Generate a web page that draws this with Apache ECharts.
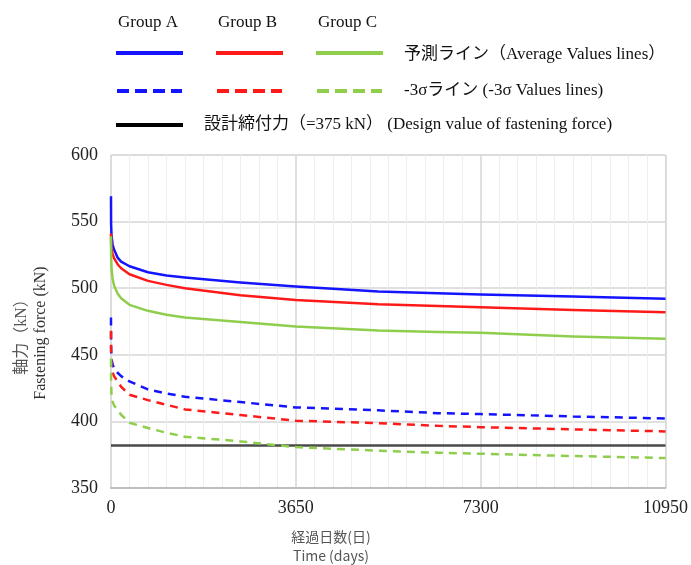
<!DOCTYPE html>
<html><head><meta charset="utf-8">
<script src="https://cdn.jsdelivr.net/npm/echarts@6/dist/echarts.min.js"></script>
<style>html,body{margin:0;padding:0;background:#fff}#c{width:691px;height:565px}</style>
</head><body><div id="c"></div>
<script>
// ---- data ----
const days = [0, 2, 10, 30, 60, 130, 200, 365, 730, 1095, 1460, 2555, 3650, 5277, 6456, 7300, 9125, 10950];
const groupA_avg = [569, 548, 540, 533, 529, 523, 520, 516.5, 512, 509.5, 508, 504.2, 501.2, 497.5, 496.2, 495.2, 493.8, 492];
const groupB_avg = [541, 535, 530, 526, 522.5, 518, 515, 510.5, 505.5, 502.5, 500, 494.7, 491.2, 488, 486.7, 485.7, 483.7, 482];
const groupC_avg = [539, 525, 515, 507.5, 502, 496, 492.5, 487.5, 483, 480, 478, 474.7, 471.2, 468.2, 467.2, 466.5, 463.7, 462];
const groupA_3s = [478, 455, 447, 443, 440, 436.5, 434, 430, 424, 421, 418.5, 414.5, 410.5, 408.3, 406.2, 405.5, 403.7, 402.2];
const groupB_3s = [468, 448, 441, 437, 434, 430, 426, 420, 416, 412.5, 409, 404.8, 400.5, 398.7, 396.7, 395.7, 394, 392.5];
const groupC_3s = [447, 430, 420, 415, 412, 408.5, 405, 399, 395, 391.5, 388.5, 385, 380.7, 378, 376.5, 375.7, 374, 372.5];
const designValue = 382;
const xTicks = [0, 3650, 7300, 10950];
const yTicks = [350, 400, 450, 500, 550, 600];
const groupNames = ['Group A', 'Group B', 'Group C'];
const legendTexts = ['予測ライン（Average Values lines）', '-3σライン (-3σ Values lines)', '設計締付力（=375 kN） (Design value of fastening force)'];
const axisNameY = ['軸力（kN）', 'Fastening force (kN)'];
const axisNameX = ['経過日数(日)', 'Time (days)'];

const colors = ['#1414ff', '#ff1a1a', '#8fce4c'];
const serif = '"Liberation Serif", "Noto Sans CJK JP", serif';
const sans = '"Noto Sans CJK JP", "Noto Sans", sans-serif';

function pairs(v) { return days.map((d, i) => [d, v[i]]); }

const avgSets = [groupA_avg, groupB_avg, groupC_avg];
const sigSets = [groupA_3s, groupB_3s, groupC_3s];
const series = [];
series.push({
  type: 'line', data: [[xTicks[0], designValue], [xTicks[xTicks.length - 1], designValue]],
  symbol: 'none', lineStyle: { color: '#4a4a4a', width: 2.5 }, z: 1
});
for (let g = 0; g < 3; g++) {
  series.push({ type: 'line', data: pairs(avgSets[g]), symbol: 'none',
    lineStyle: { color: colors[g], width: 2.5, join: 'round' }, z: 3 });
  series.push({ type: 'line', data: pairs(sigSets[g]), symbol: 'none',
    lineStyle: { color: colors[g], width: 2.5, type: [8, 6] }, z: 3 });
}

// legend graphics
const lx = [116, 216, 316];
const graphic = [];
for (let g = 0; g < 3; g++) {
  graphic.push({ type: 'text', left: lx[g] + 2, top: 14, style: { text: groupNames[g], font: '17px ' + serif, fill: '#111' } });
  graphic.push({ type: 'line', shape: { x1: lx[g], y1: 53, x2: lx[g] + 67, y2: 53 }, style: { stroke: colors[g], lineWidth: 4 } });
  graphic.push({ type: 'line', shape: { x1: lx[g] + 1, y1: 91, x2: lx[g] + 66, y2: 91 }, style: { stroke: colors[g], lineWidth: 4, lineDash: [12, 6] } });
}
graphic.push({ type: 'line', shape: { x1: 116, y1: 125, x2: 183, y2: 125 }, style: { stroke: '#000', lineWidth: 4 } });
graphic.push({ type: 'text', x: 404, y: 55, style: { text: legendTexts[0], font: '17px ' + serif, fill: '#111', textVerticalAlign: 'middle' } });
graphic.push({ type: 'text', x: 404, y: 91, style: { text: legendTexts[1], font: '17px ' + serif, fill: '#111', textVerticalAlign: 'middle' } });
graphic.push({ type: 'text', x: 204, y: 125, style: { text: legendTexts[2], font: '17px ' + serif, fill: '#111', textVerticalAlign: 'middle' } });
// axis names
graphic.push({ type: 'text', x: 22, y: 333, rotation: Math.PI / 2, style: { text: axisNameY[0], font: '16px ' + serif, fill: '#555', textAlign: 'center', textVerticalAlign: 'middle' } });
graphic.push({ type: 'text', x: 41, y: 333, rotation: Math.PI / 2, style: { text: axisNameY[1], font: '16px ' + serif, fill: '#333', textAlign: 'center', textVerticalAlign: 'middle' } });
graphic.push({ type: 'text', x: 331, y: 537, style: { text: axisNameX[0], font: '14px ' + sans, fill: '#555', textAlign: 'center', textVerticalAlign: 'middle' } });
graphic.push({ type: 'text', x: 331, y: 556, style: { text: axisNameX[1], font: '14px ' + sans, fill: '#555', textAlign: 'center', textVerticalAlign: 'middle' } });

const chart = echarts.init(document.getElementById('c'), null, { renderer: 'canvas' });
chart.setOption({
  animation: false,
  backgroundColor: '#fff',
  grid: { left: 111, right: 22, top: 155, bottom: 77, show: true, borderColor: '#dcdcdc', borderWidth: 1 },
  xAxis: {
    type: 'value', min: xTicks[0], max: xTicks[xTicks.length - 1], interval: xTicks[1] - xTicks[0],
    axisLine: { show: true, onZero: false, lineStyle: { color: '#bdbdbd', width: 2 } },
    axisTick: { show: false },
    axisLabel: { color: '#222', fontFamily: serif, fontSize: 18, margin: 11, formatter: v => String(v) },
    splitLine: { show: true, lineStyle: { color: '#d6d6d6', width: 1.5 } },
    minorTick: { show: false, splitNumber: 10 },
    minorSplitLine: { show: true, lineStyle: { color: '#eeeeee', width: 1 } }
  },
  yAxis: {
    type: 'value', min: yTicks[0], max: yTicks[yTicks.length - 1], interval: yTicks[1] - yTicks[0],
    axisLine: { show: false },
    axisTick: { show: false },
    axisLabel: { color: '#222', fontFamily: serif, fontSize: 18, margin: 13, formatter: v => String(v) },
    splitLine: { show: true, lineStyle: { color: '#d6d6d6', width: 1.5 } }
  },
  series: series,
  graphic: graphic
});
</script></body></html>
